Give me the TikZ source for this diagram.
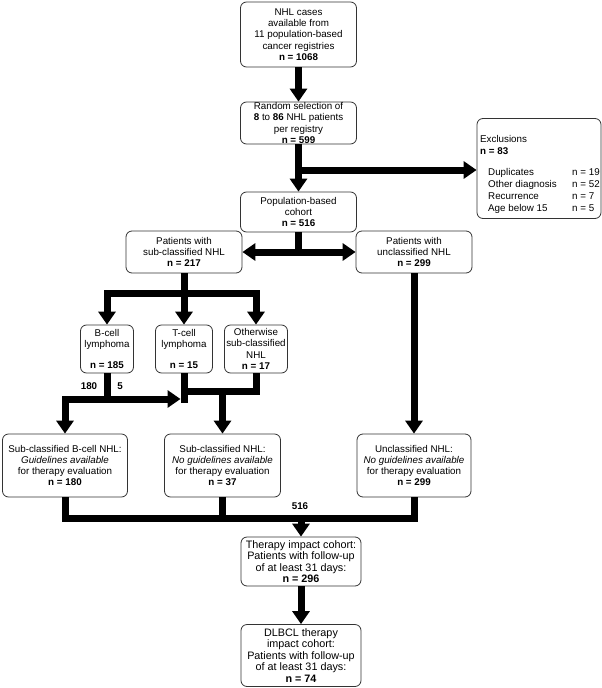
\documentclass[tikz,border=0pt]{standalone}
\usepackage{fontspec}
\setmainfont{Liberation Sans}
\usetikzlibrary{arrows.meta}
\newcommand\fs{\fontsize{9.8}{11.3}\selectfont}
\newcommand\fsbig{\fontsize{10.8}{11.5}\selectfont}
\begin{document}
\begin{tikzpicture}[x=1pt,y=-1pt,
  box/.style={draw=black!80, line width=0.8pt, rounded corners=6pt, align=center, inner sep=0pt, font=\fs},
  fat/.style={line width=7pt},
  arr/.style={line width=7pt, -{Triangle[width=17pt,length=13pt]}},
  darr/.style={line width=7pt, {Triangle[width=17pt,length=13pt]}-{Triangle[width=17pt,length=13pt]}},
  lbl/.style={font=\fs\bfseries, inner sep=0pt}]
\useasboundingbox (0,0) rectangle (602,688);

\node[box, minimum width=116pt, minimum height=65pt] (cases) at (298.5,34.5)
  {NHL cases\\available from\\11 population-based\\cancer registries\\\textbf{n = 1068}};
\node[box, minimum width=116pt, minimum height=42pt] (rand) at (298.5,123)
  {Random selection of\\\textbf{8} to \textbf{86} NHL patients\\per registry\\\textbf{n = 599}};
\node[box, minimum width=124pt, minimum height=100pt] (excl) at (539,168.5) {};
\node[anchor=north west, align=left, inner sep=0pt, font=\fontsize{9.8}{12}\selectfont] (exclt) at (480,135)
  {Exclusions\\\textbf{n = 83}\\[9pt]
   \hspace*{8pt}\makebox[84pt][l]{Duplicates}n = 19\\
   \hspace*{8pt}\makebox[84pt][l]{Other diagnosis}n = 52\\
   \hspace*{8pt}\makebox[84pt][l]{Recurrence}n = 7\\
   \hspace*{8pt}\makebox[84pt][l]{Age below 15}n = 5};
\node[box, minimum width=116pt, minimum height=40pt] (pop) at (298.5,212)
  {Population-based\\cohort\\\textbf{n = 516}};
\node[box, minimum width=116pt, minimum height=42pt] (sub) at (184,252)
  {Patients with\\sub-classified NHL\\\textbf{n = 217}};
\node[box, minimum width=116pt, minimum height=42pt] (uncl) at (414,252)
  {Patients with\\unclassified NHL\\\textbf{n = 299}};
\node[box, minimum width=53pt, minimum height=48pt] (bcell) at (107,349)
  {B-cell\\lymphoma\\[10pt]\textbf{n = 185}};
\node[box, minimum width=57pt, minimum height=48pt] (tcell) at (184,349)
  {T-cell\\lymphoma\\[10pt]\textbf{n = 15}};
\node[box, minimum width=63pt, minimum height=48pt] (other) at (256,349)
  {Otherwise\\sub-classified\\NHL\\\textbf{n = 17}};
\node[box, minimum width=125pt, minimum height=63pt] (subB) at (65,465.5)
  {Sub-classified B-cell NHL:\\\textit{Guidelines available}\\for therapy evaluation\\\textbf{n = 180}};
\node[box, minimum width=116pt, minimum height=63pt] (subN) at (222.5,465.5)
  {Sub-classified NHL:\\\textit{No guidelines available}\\for therapy evaluation\\\textbf{n = 37}};
\node[box, minimum width=114pt, minimum height=63pt] (uncN) at (414,465.5)
  {Unclassified NHL:\\\textit{No guidelines available}\\for therapy evaluation\\\textbf{n = 299}};
\node[box, font=\fsbig, minimum width=120pt, minimum height=49pt] (therapy) at (301,561.5)
  {Therapy impact cohort:\\Patients with follow-up\\of at least 31 days:\\\textbf{n = 296}};
\node[box, font=\fsbig, minimum width=120pt, minimum height=62pt] (dlbcl) at (301,655.5)
  {DLBCL therapy\\impact cohort:\\Patients with follow-up\\of at least 31 days:\\\textbf{n = 74}};

\coordinate (je) at (0,170);
\coordinate (j1) at (0,293);
\coordinate (j2) at (0,399);
\coordinate (j2d) at (0,402.5);
\coordinate (j2b) at (0,391.5);
\coordinate (j3) at (0,518);

\draw[arr] (cases.south) -- (rand.north);
\draw[arr] (rand.south) -- (pop.north);
\draw[arr] (rand.south |- je) -- (excl.west |- je);
\draw[fat] (pop.south) -- (pop.south |- sub.east);
\draw[darr] (sub.east) -- (uncl.west);
\draw[arr] (sub.south) -- (tcell.north);
\draw[darr] (bcell.north) -- (bcell.north |- j1) -- (other.north |- j1) -- (other.north);
\draw[arr] (uncl.south) -- (uncN.north);
\draw[fat] (bcell.south) -- (bcell.south |- j2);
\draw[darr, shorten >=3.5pt] (subB.north) -- (subB.north |- j2) -- (tcell.south |- j2);
\draw[fat] (tcell.south) -- (tcell.south |- j2d);
\draw[fat] (tcell.south |- j2b) -- (other.south |- j2b) -- (other.south);
\draw[arr] (subN.north |- j2b) -- (subN.north);
\draw[fat] (subB.south) -- (subB.south |- j3) -- (uncN.south |- j3) -- (uncN.south);
\draw[fat] (subN.south) -- (subN.south |- j3);
\draw[arr] (therapy.north |- j3) -- (therapy.north);
\draw[arr] (therapy.south) -- (dlbcl.north);

\node[lbl] (l180) at (89,386) {180};
\node[lbl] (l5) at (120,386) {5};
\node[lbl] (l516) at (300,506) {516};
\end{tikzpicture}
\end{document}
